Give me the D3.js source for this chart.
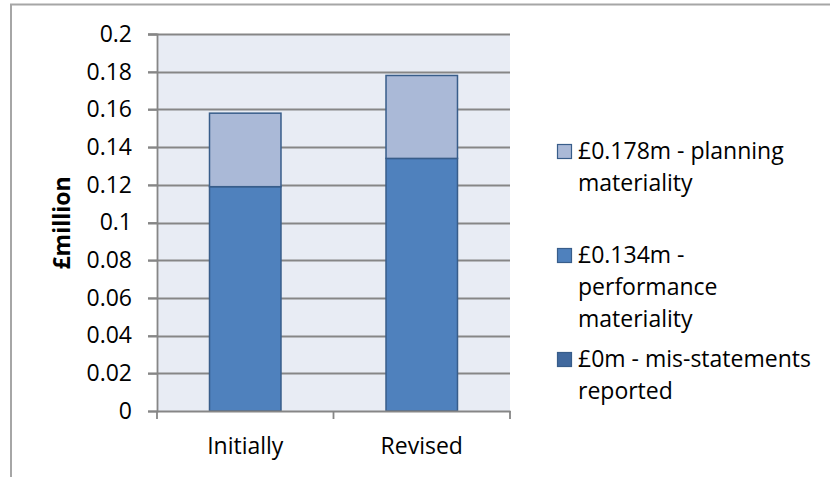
<!DOCTYPE html>
<html>
<head>
<meta charset="utf-8">
<script src="https://cdn.jsdelivr.net/npm/d3@7"></script>
<style>
  body { margin: 0; background: #fff; }
  text { font-family: "Open Sans", sans-serif; fill: #000; }
</style>
</head>
<body>
<div id="chart"></div>
<script>
// data
var categories = ["Initially", "Revised"];
var misstatements = [0, 0];
var performance = [0.119, 0.134];
var planningExtra = [0.039, 0.044];   // planning minus performance (stacked on top)
var legendLines = [
  ["£0.178m - planning", "materiality"],
  ["£0.134m -", "performance", "materiality"],
  ["£0m - mis-statements", "reported"]
];
var yTicks = [0, 0.02, 0.04, 0.06, 0.08, 0.1, 0.12, 0.14, 0.16, 0.18, 0.2];
var colors = ["#41699e", "#4f81bd", "#aab9d7"];

var W = 830, H = 477;
var plot = {left: 157, top: 34, right: 510, bottom: 411};

var svg = d3.select("#chart").append("svg")
    .attr("width", W)
    .attr("height", H);

// outer chart frame
svg.append("rect")
    .attr("x", 11).attr("y", 4.5)
    .attr("width", 840).attr("height", 490)
    .attr("fill", "none")
    .attr("stroke", "#a6a6a6")
    .attr("stroke-width", 2);

// plot background
svg.append("rect")
    .attr("x", plot.left).attr("y", plot.top)
    .attr("width", plot.right - plot.left)
    .attr("height", plot.bottom - plot.top)
    .attr("fill", "#e8ecf4");

var y = d3.scaleLinear().domain([0, 0.2]).range([plot.bottom, plot.top]);
var x = d3.scaleBand().domain(categories)
    .range([plot.left, plot.right])
    .paddingInner(0.595)
    .paddingOuter(0.2975);

// gridlines (extend to the left as tick marks)
svg.append("g").selectAll("line")
  .data(yTicks.filter(function(d){ return d > 0; }))
  .enter().append("line")
    .attr("x1", plot.left - 9).attr("x2", plot.right)
    .attr("y1", function(d){ return Math.round(y(d)) + 0.5; })
    .attr("y2", function(d){ return Math.round(y(d)) + 0.5; })
    .attr("stroke", "#868686")
    .attr("stroke-width", 1.8);

// stacked bars
var rows = categories.map(function(c, i){
  return {cat: c, s0: misstatements[i], s1: performance[i], s2: planningExtra[i]};
});
var stack = d3.stack().keys(["s0", "s1", "s2"]);
var layers = stack(rows);

svg.append("g").selectAll("g")
  .data(layers)
  .enter().append("g")
    .attr("fill", function(d, i){ return colors[i]; })
  .selectAll("rect")
  .data(function(d){ return d.filter(function(p){ return p[1] - p[0] > 0; }); })
  .enter().append("rect")
    .attr("x", function(d){ return x(d.data.cat); })
    .attr("width", x.bandwidth())
    .attr("y", function(d){ return y(d[1]); })
    .attr("height", function(d){ return y(d[0]) - y(d[1]); })
    .attr("stroke", "#385d8a")
    .attr("stroke-width", 1.5);

// y axis
var yAxis = svg.append("g")
    .attr("transform", "translate(" + plot.left + ",0)")
    .call(d3.axisLeft(y).tickValues(yTicks).tickSize(9).tickPadding(16)
      .tickFormat(function(d){ return d3.format("")(+d.toFixed(2)); }));
yAxis.select(".domain").attr("stroke", "#868686").attr("stroke-width", 1.8);
yAxis.selectAll(".tick line").attr("stroke", "#868686").attr("stroke-width", 1.8);
yAxis.selectAll("text").style("font-size", "23px").attr("fill", "#000");

// x axis
var xAxis = svg.append("g")
    .attr("transform", "translate(0," + plot.bottom + ")")
    .call(d3.axisBottom(x).tickSize(0).tickPadding(27));
xAxis.select(".domain").attr("stroke", "#868686").attr("stroke-width", 1.8);
xAxis.selectAll("text").style("font-size", "23px").attr("fill", "#000");
// category separators
svg.append("g").selectAll("line")
  .data([plot.left, (plot.left + plot.right) / 2, plot.right])
  .enter().append("line")
    .attr("x1", function(d){ return d; }).attr("x2", function(d){ return d; })
    .attr("y1", plot.bottom).attr("y2", plot.bottom + 8)
    .attr("stroke", "#868686").attr("stroke-width", 1.8);

// y title
svg.append("text")
    .attr("transform", "translate(70,223) rotate(-90)")
    .attr("text-anchor", "middle")
    .style("font-size", "23px")
    .style("font-weight", "bold")
    .text("£million");

// legend
var legendTop = [144, 248, 352];
var legendIdx = [2, 1, 0];
var lg = svg.append("g");
legendIdx.forEach(function(si, k){
  lg.append("rect")
      .attr("x", 557.5).attr("y", legendTop[k] + 0.5)
      .attr("width", 14).attr("height", 14)
      .attr("fill", colors[si])
      .attr("stroke", "#385d8a")
      .attr("stroke-width", 1.2);
  var t = lg.append("text")
      .attr("x", 578)
      .attr("y", legendTop[k] + 15)
      .style("font-size", "23px");
  legendLines[k].forEach(function(line, j){
    t.append("tspan")
        .attr("x", 578)
        .attr("dy", j === 0 ? 0 : 32)
        .text(line);
  });
});
</script>
</body>
</html>
